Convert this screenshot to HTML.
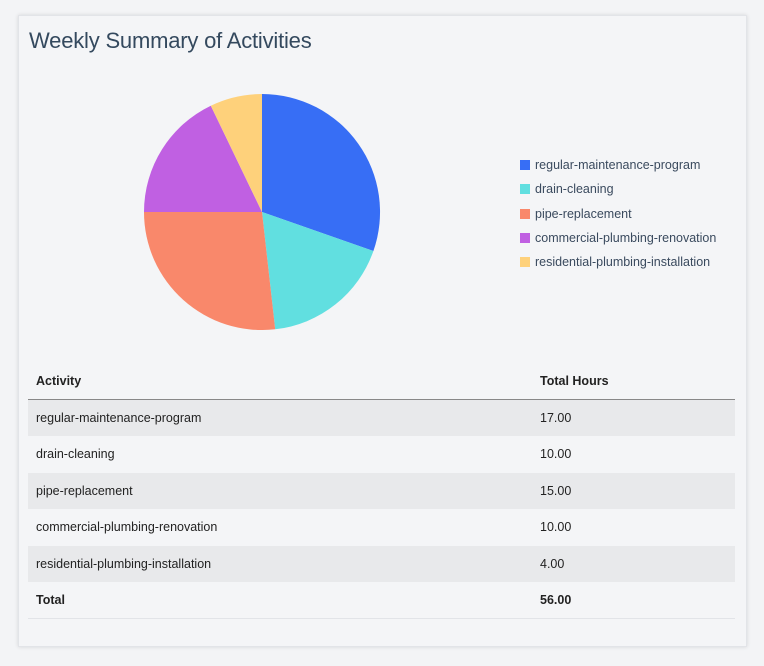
<!DOCTYPE html>
<html><head><style>
body{margin:0;width:764px;height:666px;background:#f3f4f6;font-family:"Liberation Sans",sans-serif;position:relative;overflow:hidden}
.card{position:absolute;left:18px;top:15px;width:727px;height:630px;background:#f4f5f7;border:1px solid #e2e4e8;box-shadow:0 0 4px rgba(0,0,0,0.12)}
h1{position:absolute;left:10px;top:12px;margin:0;font-size:22px;font-weight:normal;color:#34495e;letter-spacing:-0.2px}
.lg{position:absolute;left:501px;font-size:12.5px;color:#3a4a5e;white-space:nowrap}
.lg i{display:inline-block;width:10px;height:10px;margin-right:5px;vertical-align:-1px}
table{position:absolute;left:9px;top:347px;width:707px;border-collapse:collapse;font-size:12.5px;color:#222}
td,th{height:36.5px;padding:0 0 0 8px;text-align:left;box-sizing:border-box}
th{font-weight:bold;border-bottom:1px solid #888}
tr.g td{background:#e8e9eb}
tr.t td{font-weight:bold;border-bottom:1px solid #e2e4e8}
</style></head><body>
<div class="card">
<h1>Weekly Summary of Activities</h1>
<svg style="position:absolute;left:-19px;top:-16px" width="764" height="360">
<path d="M262,212 L262,94 A118,118 0 0 1 373.4,251 Z" fill="#376ef5"/>
<path d="M262,212 L373.4,251 A118,118 0 0 1 275.2,329.3 Z" fill="#61dfe0"/>
<path d="M262,212 L275.2,329.3 A118,118 0 0 1 144,212 Z" fill="#f9886b"/>
<path d="M262,212 L144,212 A118,118 0 0 1 210.8,105.7 Z" fill="#c060e2"/>
<path d="M262,212 L210.8,105.7 A118,118 0 0 1 262,94 Z" fill="#fed17b"/>
</svg>
<div class="lg" style="top:142px"><i style="background:#376ef5"></i>regular-maintenance-program</div>
<div class="lg" style="top:166px"><i style="background:#61dfe0"></i>drain-cleaning</div>
<div class="lg" style="top:191px"><i style="background:#f9886b"></i>pipe-replacement</div>
<div class="lg" style="top:215px"><i style="background:#c060e2"></i>commercial-plumbing-renovation</div>
<div class="lg" style="top:239px"><i style="background:#fed17b"></i>residential-plumbing-installation</div>
<table>
<tr><th style="width:504px">Activity</th><th>Total Hours</th></tr>
<tr class="g"><td>regular-maintenance-program</td><td>17.00</td></tr>
<tr><td>drain-cleaning</td><td>10.00</td></tr>
<tr class="g"><td>pipe-replacement</td><td>15.00</td></tr>
<tr><td>commercial-plumbing-renovation</td><td>10.00</td></tr>
<tr class="g"><td>residential-plumbing-installation</td><td>4.00</td></tr>
<tr class="t"><td>Total</td><td>56.00</td></tr>
</table>
</div>
</body></html>
